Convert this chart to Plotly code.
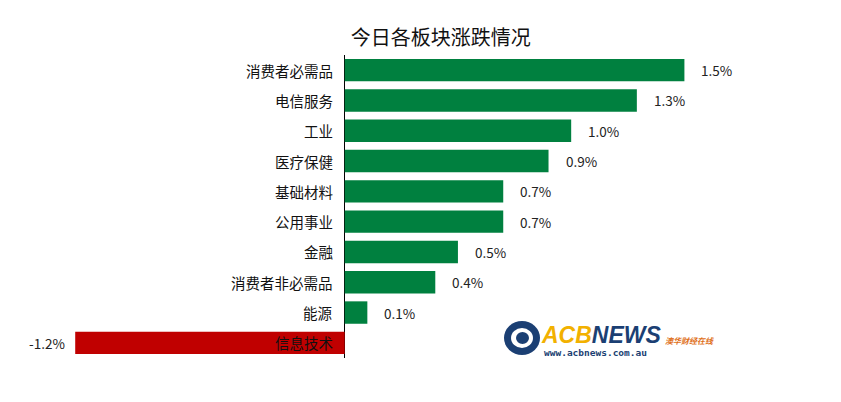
import plotly.graph_objects as go

categories = ["消费者必需品", "电信服务", "工业", "医疗保健", "基础材料",
              "公用事业", "金融", "消费者非必需品", "能源", "信息技术"]
values = [1.50, 1.29, 1.00, 0.90, 0.70, 0.70, 0.50, 0.40, 0.10, -1.19]
value_labels = ["1.5%", "1.3%", "1.0%", "0.9%", "0.7%", "0.7%", "0.5%", "0.4%", "0.1%", "-1.2%"]

GREEN = "#00803F"
RED = "#C00000"
FONT = "Noto Sans CJK SC, Microsoft YaHei, sans-serif"
colors = [GREEN if v >= 0 else RED for v in values]

W, H = 841, 402
ML, MR, MT, MB = 5, 66, 55, 44

fig = go.Figure(go.Bar(
    y=categories, x=values, orientation="h",
    marker=dict(color=colors, line=dict(width=0)),
    width=0.74, hoverinfo="skip",
))

annotations = []
for c in categories:
    annotations.append(dict(x=0, y=c, xref="x", yref="y", text=c, showarrow=False,
                            xanchor="right", xshift=-10,
                            font=dict(size=14.5, color="#111111", family=FONT)))
for c, v, t in zip(categories, values, value_labels):
    annotations.append(dict(x=v, y=c, xref="x", yref="y", text=t, showarrow=False,
                            xanchor="left" if v >= 0 else "right",
                            xshift=15 if v >= 0 else -8,
                            font=dict(size=13.5, color="#222222", family=FONT)))

def px(x, y):
    pw = W - ML - MR
    ph = H - MT - MB
    return (x - ML) / pw, 1 - (y - MT) / ph

lx, ly = px(539, 335)
annotations.append(dict(x=lx, y=ly, xref="paper", yref="paper",
                        text="<b><i><span style='color:#F2B100'>ACB</span><span style='color:#1B3F73'>NEWS</span></i></b>",
                        showarrow=False, xanchor="left", yanchor="middle",
                        font=dict(size=23, family="Liberation Sans, Arial")))
wx, wy = px(542, 352)
annotations.append(dict(x=wx, y=wy, xref="paper", yref="paper",
                        text="<b>www.acbnews.com.au</b>", showarrow=False,
                        xanchor="left", yanchor="middle",
                        font=dict(size=9.5, color="#1B3F73", family="DejaVu Sans Mono")))
cx, cy = px(663, 340)
annotations.append(dict(x=cx, y=cy, xref="paper", yref="paper",
                        text="<b><i>澳华财经在线</i></b>", showarrow=False,
                        xanchor="left", yanchor="middle",
                        font=dict(size=8, color="#E0701A", family=FONT)))

shapes = []
def circ(x0, y0, x1, y1, col):
    a0, b0 = px(x0, y0)
    a1, b1 = px(x1, y1)
    shapes.append(dict(type="circle", xref="paper", yref="paper", x0=a0, y0=b1, x1=a1, y1=b0,
                       fillcolor=col, line=dict(width=0)))
circ(504, 321, 540, 355, "#1B3F73")
circ(511, 328, 533, 348, "white")
circ(516, 332, 529, 344, "#1B3F73")

fig.update_layout(
    width=W, height=H,
    margin=dict(l=ML, r=MR, t=MT, b=MB),
    paper_bgcolor="white", plot_bgcolor="white",
    title=dict(text="今日各板块涨跌情况", x=0.524, xanchor="center", y=0.905, yanchor="middle",
               font=dict(size=20, color="#111111", family=FONT)),
    xaxis=dict(range=[-1.5, 1.9], showgrid=False, showticklabels=False, ticks="",
               zeroline=True, zerolinecolor="black", zerolinewidth=1, fixedrange=True),
    yaxis=dict(autorange="reversed", showgrid=False, showticklabels=False, ticks="",
               showline=False, fixedrange=True),
    bargap=0.26,
    showlegend=False,
    annotations=annotations,
    shapes=shapes,
)

fig.write_html("out.html")
